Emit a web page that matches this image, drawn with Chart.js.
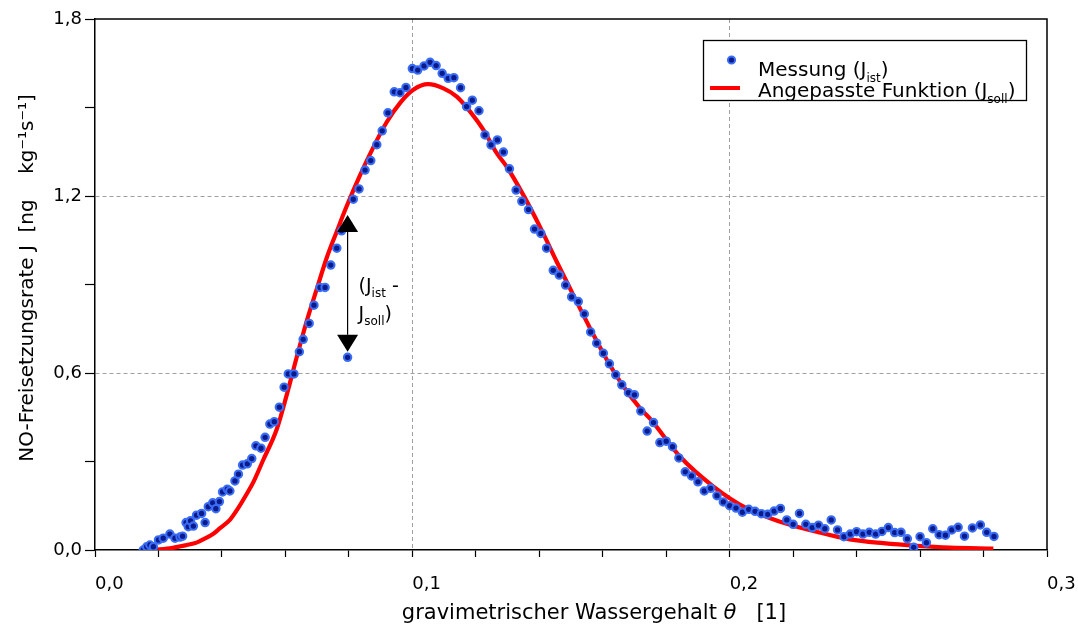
<!DOCTYPE html>
<html>
<head>
<meta charset="utf-8">
<script src="https://cdn.jsdelivr.net/npm/chart.js@4/dist/chart.umd.min.js"></script>
<style>
html,body{margin:0;padding:0;background:#fff;}
#wrap{width:1078px;height:626px;}
</style>
</head>
<body>
<div id="wrap"><canvas id="c" width="1078" height="626"></canvas></div>
<script>
// Measured points (J_ist)
const measX = [0.0152,0.0163,0.0173,0.0184,0.0200,0.0215,0.0236,0.0252,0.0268,0.0276,0.0287,0.0294,0.0301,0.0310,0.0320,0.0336,0.0347,0.0357,0.0371,0.0381,0.0392,0.0402,0.0417,0.0425,0.0441,0.0452,0.0465,0.0480,0.0494,0.0507,0.0523,0.0536,0.0551,0.0565,0.0581,0.0596,0.0609,0.0627,0.0644,0.0656,0.0675,0.0690,0.0709,0.0725,0.0743,0.0762,0.0777,0.0796,0.0814,0.0832,0.0851,0.0869,0.0888,0.0905,0.0923,0.0943,0.0961,0.0980,0.1000,0.1017,0.1037,0.1056,0.1075,0.1094,0.1113,0.1131,0.1152,0.1171,0.1189,0.1210,0.1229,0.1248,0.1268,0.1287,0.1306,0.1327,0.1345,0.1366,0.1385,0.1405,0.1423,0.1444,0.1463,0.1483,0.1502,0.1523,0.1542,0.1562,0.1581,0.1602,0.1621,0.1641,0.1660,0.1681,0.1700,0.1720,0.1740,0.1760,0.1780,0.1800,0.1820,0.1840,0.1860,0.1880,0.1900,0.1920,0.1940,0.1960,0.1980,0.2000,0.2020,0.2040,0.2060,0.2080,0.2100,0.2120,0.2140,0.2160,0.2180,0.2200,0.2220,0.2240,0.2260,0.2280,0.2300,0.2320,0.2340,0.2360,0.2380,0.2400,0.2420,0.2440,0.2460,0.2480,0.2500,0.2520,0.2540,0.2560,0.2580,0.2600,0.2620,0.2640,0.2660,0.2680,0.2700,0.2720,0.2740,0.2765,0.2790,0.2810,0.2833];
const measY = [0.000,0.011,0.017,0.011,0.034,0.040,0.054,0.040,0.044,0.047,0.093,0.079,0.099,0.081,0.118,0.124,0.093,0.147,0.160,0.140,0.164,0.197,0.206,0.200,0.234,0.257,0.288,0.292,0.310,0.353,0.345,0.382,0.427,0.435,0.484,0.552,0.597,0.597,0.672,0.714,0.768,0.830,0.890,0.890,0.966,1.023,1.082,0.653,1.189,1.224,1.288,1.320,1.374,1.421,1.482,1.553,1.550,1.568,1.632,1.627,1.641,1.653,1.642,1.616,1.599,1.601,1.567,1.503,1.525,1.489,1.407,1.373,1.390,1.349,1.292,1.220,1.182,1.154,1.088,1.073,1.023,0.948,0.932,0.898,0.858,0.842,0.800,0.739,0.701,0.667,0.631,0.594,0.560,0.533,0.526,0.471,0.403,0.432,0.364,0.369,0.350,0.312,0.265,0.251,0.231,0.200,0.209,0.184,0.163,0.150,0.142,0.128,0.138,0.131,0.123,0.121,0.132,0.141,0.102,0.087,0.124,0.087,0.076,0.084,0.072,0.102,0.068,0.045,0.054,0.062,0.054,0.060,0.054,0.063,0.076,0.059,0.060,0.038,0.009,0.045,0.025,0.072,0.052,0.050,0.068,0.077,0.047,0.075,0.085,0.060,0.046];

// Fitted function (J_soll)
const fitX = [0.0167,0.0236,0.0289,0.0320,0.0341,0.0373,0.0394,0.0425,0.0447,0.0478,0.0499,0.0530,0.0573,0.0604,0.0636,0.0667,0.0699,0.0730,0.0762,0.0793,0.0835,0.0877,0.0919,0.0961,0.1003,0.1050,0.1098,0.1140,0.1182,0.1224,0.1266,0.1297,0.1350,0.1402,0.1455,0.1507,0.1560,0.1613,0.1665,0.1718,0.1749,0.1844,0.1949,0.2054,0.2159,0.2274,0.2379,0.2484,0.2590,0.2694,0.2831];
const fitY = [0,0.006,0.017,0.025,0.036,0.055,0.074,0.102,0.135,0.190,0.230,0.305,0.410,0.525,0.655,0.775,0.885,0.990,1.080,1.165,1.270,1.365,1.450,1.515,1.560,1.579,1.565,1.537,1.486,1.424,1.345,1.300,1.203,1.096,0.977,0.865,0.752,0.645,0.555,0.480,0.445,0.316,0.215,0.141,0.096,0.062,0.036,0.023,0.014,0.008,0.005];

// Axis tick labels
const xTickLabels = ['0,0','0,1','0,2','0,3'];
const yTickLabels = ['0,0','0,6','1,2','1,8'];

// Annotation (arrow between J_ist and J_soll)
const arrowX = 0.0796;
const arrowTop = 1.136;
const arrowBottom = 0.672;

const FONT = 'DejaVu Sans';

function richText(ctx, parts, x, y, size, measureOnly) {
  let cx = x;
  for (const p of parts) {
    const sz = p.sub ? Math.round(size * 0.62) : size;
    ctx.font = (p.it ? 'italic ' : '') + sz + 'px "' + FONT + '"';
    if (!measureOnly) ctx.fillText(p.t, cx, p.sub ? y + size * 0.28 : y);
    cx += ctx.measureText(p.t).width;
  }
  return cx - x;
}

const decor = {
  id: 'decor',
  afterDraw(chart) {
    const ctx = chart.ctx;
    const a = chart.chartArea;
    const xs = chart.scales.x, ys = chart.scales.y;
    ctx.save();
    // frame top / right
    ctx.strokeStyle = '#000';
    ctx.lineWidth = 1.5;
    ctx.beginPath();
    ctx.moveTo(a.left, a.top); ctx.lineTo(a.right, a.top); ctx.lineTo(a.right, a.bottom);
    ctx.stroke();

    // axis titles
    ctx.fillStyle = '#000';
    ctx.textAlign = 'left';
    ctx.textBaseline = 'alphabetic';
    const xt = [{t:'gravimetrischer Wassergehalt '},{t:'θ',it:true},{t:'   [1]'}];
    const w = richText(ctx, xt, 0, 0, 21, true);
    richText(ctx, xt, 594 - w / 2, 619, 21);

    ctx.save();
    ctx.translate(28, 278);
    ctx.rotate(-Math.PI / 2);
    ctx.textAlign = 'center';
    ctx.textBaseline = 'middle';
    ctx.font = '20px "' + FONT + '"';
    ctx.fillText('NO-Freisetzungsrate J  [ng    kg⁻¹s⁻¹]', 0, 0);
    ctx.restore();

    // arrow annotation
    const ax = xs.getPixelForValue(arrowX);
    const yt = ys.getPixelForValue(arrowTop);
    const yb = ys.getPixelForValue(arrowBottom);
    const hl = 17, hw = 10.5;
    ctx.strokeStyle = '#000';
    ctx.lineWidth = 1.2;
    ctx.beginPath(); ctx.moveTo(ax, yt + hl); ctx.lineTo(ax, yb - hl); ctx.stroke();
    ctx.fillStyle = '#000';
    ctx.beginPath(); ctx.moveTo(ax, yt); ctx.lineTo(ax - hw, yt + hl); ctx.lineTo(ax + hw, yt + hl); ctx.closePath(); ctx.fill();
    ctx.beginPath(); ctx.moveTo(ax, yb); ctx.lineTo(ax - hw, yb - hl); ctx.lineTo(ax + hw, yb - hl); ctx.closePath(); ctx.fill();
    ctx.textBaseline = 'alphabetic';
    ctx.textAlign = 'left';
    richText(ctx, [{t:'(J'},{t:'ist',sub:true},{t:' -'}], ax + 11, yt + 77, 19);
    richText(ctx, [{t:'J'},{t:'soll',sub:true},{t:')'}], ax + 11, yt + 105, 19);

    // legend
    const lx = 703.5, ly = 40.5, lw = 323, lh = 60;
    ctx.fillStyle = '#fff';
    ctx.fillRect(lx, ly, lw, lh);
    ctx.strokeStyle = '#000';
    ctx.lineWidth = 1.3;
    ctx.strokeRect(lx, ly, lw, lh);
    ctx.beginPath(); ctx.arc(731.5, 60, 3.6, 0, Math.PI * 2);
    ctx.fillStyle = '#0c1a8a'; ctx.fill();
    ctx.lineWidth = 2; ctx.strokeStyle = '#3a6df5'; ctx.stroke();
    ctx.strokeStyle = '#ff0000'; ctx.lineWidth = 4;
    ctx.beginPath(); ctx.moveTo(710, 88); ctx.lineTo(740, 88); ctx.stroke();
    ctx.fillStyle = '#000';
    richText(ctx, [{t:'Messung (J'},{t:'ist',sub:true},{t:')'}], 758, 76, 20);
    richText(ctx, [{t:'Angepasste Funktion (J'},{t:'soll',sub:true},{t:')'}], 758, 97, 20);
    ctx.restore();
  }
};

const isMult = (v, step) => Math.abs(v / step - Math.round(v / step)) < 1e-6;

new Chart(document.getElementById('c'), {
  type: 'scatter',
  data: {
    datasets: [
      {
        label: 'Messung (J_ist)',
        data: measX.map((x, i) => ({x: x, y: measY[i]})),
        showLine: false,
        pointRadius: 3.7,
        pointBackgroundColor: '#0c1a8a',
        pointBorderColor: '#3a6df5',
        pointBorderWidth: 2.1,
        order: 0
      },
      {
        label: 'Angepasste Funktion (J_soll)',
        data: fitX.map((x, i) => ({x: x, y: fitY[i]})),
        showLine: true,
        borderColor: '#ff0000',
        borderWidth: 4.2,
        pointRadius: 0,
        cubicInterpolationMode: 'monotone',
        order: 1
      }
    ]
  },
  options: {
    responsive: false,
    animation: false,
    events: [],
    layout: {padding: {left: 0, top: 19, right: 31, bottom: 0}},
    plugins: {legend: {display: false}, tooltip: {enabled: false}},
    scales: {
      x: {
        type: 'linear', min: 0, max: 0.3,
        afterFit(s) { s.height = 76; s.paddingLeft = 0; s.paddingRight = 0; },
        ticks: {
          stepSize: 0.02,
          autoSkip: false,
          maxRotation: 0,
          align: 'start',
          color: '#000',
          padding: 17,
          font: {family: FONT, size: 18},
          callback: (v) => isMult(v, 0.1) ? xTickLabels[Math.round(v * 10)] : ''
        },
        grid: {
          color: (c) => (c.tick && isMult(c.tick.value, 0.1) && c.tick.value > 0.05 && c.tick.value < 0.25) ? '#a0a0a0' : 'rgba(0,0,0,0)',
          lineWidth: 1,
          tickColor: '#000',
          tickLength: 7,
          tickWidth: 1.2,
          tickBorderDash: []
        },
        border: {display: true, color: '#000', width: 1.5, dash: [4, 3]},
        title: {display: false}
      },
      y: {
        type: 'linear', min: 0, max: 1.8,
        afterFit(s) { s.width = 95; },
        ticks: {
          stepSize: 0.3,
          autoSkip: false,
          color: '#000',
          padding: 3,
          font: {family: FONT, size: 18},
          callback: (v) => isMult(v, 0.6) ? yTickLabels[Math.round(v / 0.6)] : ''
        },
        grid: {
          color: (c) => (c.tick && isMult(c.tick.value, 0.6) && c.tick.value > 0.3 && c.tick.value < 1.5) ? '#a0a0a0' : 'rgba(0,0,0,0)',
          lineWidth: 1,
          tickColor: '#000',
          tickLength: 10,
          tickWidth: 1.2,
          tickBorderDash: []
        },
        border: {display: true, color: '#000', width: 1.5, dash: [4, 3]},
        title: {display: false}
      }
    }
  },
  plugins: [decor]
});
</script>
</body>
</html>
